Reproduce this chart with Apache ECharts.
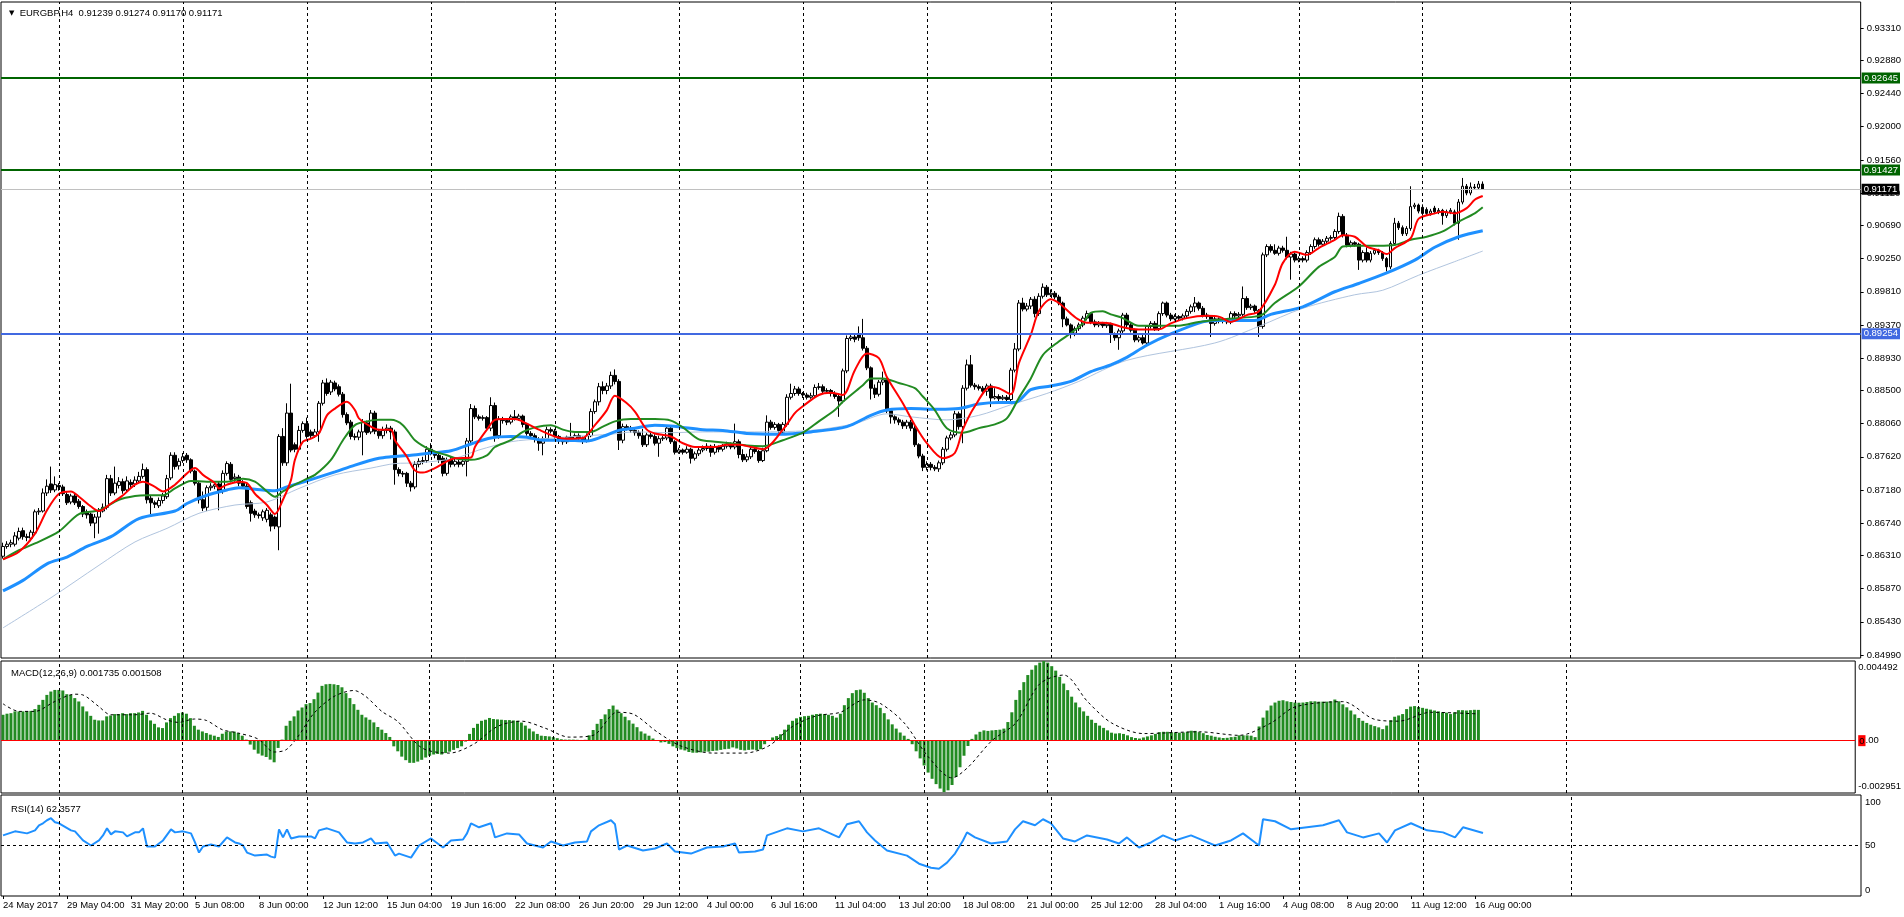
<!DOCTYPE html>
<html><head><meta charset="utf-8">
<script src="https://cdn.jsdelivr.net/npm/echarts@6/dist/echarts.min.js"></script>
<style>html,body{margin:0;padding:0;background:#fff;}#c{width:1904px;height:917px;}</style>
</head><body><div id="c"></div>
<script>
// ---------- DATA ----------
const tickLabels = ["24 May 2017","29 May 04:00","31 May 20:00","5 Jun 08:00","8 Jun 00:00","12 Jun 12:00","15 Jun 04:00","19 Jun 16:00","22 Jun 08:00","26 Jun 20:00","29 Jun 12:00","4 Jul 00:00","6 Jul 16:00","11 Jul 04:00","13 Jul 20:00","18 Jul 08:00","21 Jul 00:00","25 Jul 12:00","28 Jul 04:00","1 Aug 16:00","4 Aug 08:00","8 Aug 20:00","11 Aug 12:00","16 Aug 00:00"];
const priceTicks = [0.93310,0.92880,0.92440,0.92000,0.91560,0.91120,0.90690,0.90250,0.89810,0.89370,0.88930,0.88500,0.88060,0.87620,0.87180,0.86740,0.86310,0.85870,0.85430,0.84990];
const macdTicks = [0.004492, 0, -0.002951];
const rsiTicks = [100, 50, 0];
const weekGridIdx = [14,45,76,107,138,169,200,231,262,293,324,355,392];
const levelGreen = [0.92645, 0.91427];
const levelBlue = [0.89254];
const bidPrice = 0.91171;

const opens = [
0.8630,0.8643,0.8646,0.8646,0.8654,0.8664,0.8656,0.8654,0.8661,0.8689,
0.8690,0.8714,0.8726,0.8718,0.8724,0.8722,0.8712,0.8702,0.8710,0.8703,
0.8696,0.8689,0.8686,0.8674,0.8682,0.8690,0.8695,0.8733,0.8714,0.8724,
0.8729,0.8718,0.8728,0.8726,0.8730,0.8736,0.8745,0.8707,0.8701,0.8697,
0.8704,0.8709,0.8734,0.8764,0.8750,0.8757,0.8764,0.8758,0.8743,0.8727,
0.8705,0.8695,0.8721,0.8723,0.8726,0.8716,0.8740,0.8752,0.8733,0.8735,
0.8727,0.8723,0.8701,0.8690,0.8685,0.8681,0.8679,0.8685,0.8682,0.8669,
0.8789,0.8754,0.8820,0.8778,0.8772,0.8797,0.8806,0.8795,0.8790,0.8795,
0.8833,0.8860,0.8848,0.8860,0.8855,0.8845,0.8818,0.8808,0.8789,0.8788,
0.8795,0.8807,0.8795,0.8820,0.8796,0.8790,0.8797,0.8800,0.8795,0.8745,
0.8740,0.8740,0.8727,0.8722,0.8752,0.8756,0.8757,0.8772,0.8768,0.8764,
0.8760,0.8740,0.8758,0.8752,0.8755,0.8752,0.8756,0.8783,0.8826,0.8815,
0.8813,0.8814,0.8800,0.8830,0.8790,0.8812,0.8810,0.8808,0.8815,0.8813,
0.8816,0.8805,0.8793,0.8790,0.8785,0.8780,0.8786,0.8798,0.8796,0.8789,
0.8783,0.8782,0.8788,0.8785,0.8790,0.8786,0.8784,0.8790,0.8822,0.8835,
0.8855,0.8850,0.8856,0.8870,0.8862,0.8784,0.8802,0.8800,0.8797,0.8794,
0.8790,0.8778,0.8791,0.8789,0.8780,0.8786,0.8787,0.8800,0.8782,0.8768,
0.8771,0.8768,0.8772,0.8760,0.8766,0.8771,0.8773,0.8776,0.8768,0.8775,
0.8772,0.8776,0.8779,0.8775,0.8782,0.8765,0.8758,0.8762,0.8772,0.8769,
0.8757,0.8770,0.8808,0.8801,0.8805,0.8795,0.8805,0.8841,0.8846,0.8852,
0.8846,0.8844,0.8841,0.8843,0.8854,0.8855,0.8849,0.8850,0.8846,0.8842,
0.8836,0.8876,0.8919,0.8921,0.8925,0.8920,0.8906,0.8880,0.8853,0.8845,
0.8861,0.8864,0.8823,0.8815,0.8811,0.8808,0.8803,0.8808,0.8800,0.8778,
0.8763,0.8748,0.8752,0.8748,0.8746,0.8754,0.8772,0.8787,0.8791,0.8819,
0.8802,0.8853,0.8884,0.8857,0.8855,0.8853,0.8849,0.8856,0.8840,0.8842,
0.8839,0.8841,0.8838,0.8877,0.8905,0.8966,0.8958,0.8962,0.8971,0.8952,
0.8975,0.8987,0.8977,0.8979,0.8974,0.8966,0.8945,0.8937,0.8926,0.8932,
0.8937,0.8946,0.8952,0.8941,0.8937,0.8939,0.8936,0.8938,0.8925,0.8920,
0.8929,0.8950,0.8937,0.8930,0.8917,0.8920,0.8913,0.8935,0.8939,0.8932,
0.8952,0.8966,0.8950,0.8945,0.8948,0.8946,0.8949,0.8955,0.8961,0.8966,
0.8959,0.8950,0.8948,0.8939,0.8945,0.8942,0.8944,0.8941,0.8952,0.8949,
0.8951,0.8972,0.8960,0.8962,0.8956,0.8935,0.9030,0.9041,0.9036,0.9032,
0.9039,0.9036,0.9027,0.9031,0.9023,0.9025,0.9023,0.9033,0.9041,0.9050,
0.9044,0.9048,0.9052,0.9053,0.9061,0.9081,0.9056,0.9043,0.9046,0.9044,
0.9023,0.9033,0.9023,0.9032,0.9036,0.9033,0.9025,0.9014,0.9045,0.9072,
0.9066,0.9058,0.9065,0.9094,0.9096,0.9093,0.9090,0.9085,0.9092,0.9087,
0.9089,0.9082,0.9087,0.9087,0.9072,0.9100,0.9121,0.9112,0.9120,0.9119,
0.91239];
const highs = [
0.8648,0.8650,0.8652,0.8662,0.8668,0.8668,0.8660,0.8665,0.8692,0.8694,
0.8720,0.8732,0.8749,0.8736,0.8727,0.8725,0.8715,0.8713,0.8713,0.8706,
0.8698,0.8692,0.8688,0.8686,0.8694,0.8700,0.8738,0.8738,0.8749,0.8735,
0.8733,0.8736,0.8732,0.8736,0.8742,0.8753,0.8748,0.8710,0.8704,0.8708,
0.8714,0.8738,0.8768,0.8768,0.8760,0.8767,0.8767,0.8760,0.8745,0.8730,
0.8716,0.8724,0.8727,0.8729,0.8729,0.8744,0.8756,0.8755,0.8740,0.8738,
0.8731,0.8726,0.8704,0.8693,0.8688,0.8692,0.8694,0.8688,0.8684,0.8792,
0.8800,0.8833,0.8859,0.8781,0.8803,0.8809,0.8814,0.8798,0.8799,0.8836,
0.8864,0.8866,0.8864,0.8863,0.8858,0.8848,0.8821,0.8811,0.8793,0.8798,
0.8812,0.8810,0.8824,0.8823,0.8799,0.8802,0.8805,0.8803,0.8798,0.8748,
0.8743,0.8742,0.8730,0.8756,0.8760,0.8762,0.8776,0.8780,0.8770,0.8767,
0.8763,0.8761,0.8762,0.8760,0.8758,0.8760,0.8787,0.8832,0.8830,0.8818,
0.8817,0.8816,0.8841,0.8834,0.8816,0.8815,0.8813,0.8818,0.8824,0.8819,
0.8818,0.8807,0.8796,0.8793,0.8788,0.8789,0.8802,0.8801,0.8799,0.8791,
0.8786,0.8790,0.8807,0.8793,0.8793,0.8789,0.8793,0.8826,0.8838,0.8860,
0.8862,0.8860,0.8875,0.8878,0.8865,0.8806,0.8805,0.8803,0.8800,0.8797,
0.8799,0.8794,0.8794,0.8792,0.8790,0.8790,0.8803,0.8803,0.8784,0.8774,
0.8773,0.8776,0.8774,0.8769,0.8774,0.8777,0.8780,0.8778,0.8779,0.8777,
0.8779,0.8782,0.8781,0.8806,0.8785,0.8772,0.8766,0.8776,0.8775,0.8771,
0.8774,0.8817,0.8811,0.8808,0.8807,0.8808,0.8845,0.8859,0.8856,0.8855,
0.8848,0.8847,0.8847,0.8858,0.8860,0.8858,0.8853,0.8852,0.8849,0.8845,
0.8879,0.8923,0.8925,0.8924,0.8935,0.8945,0.8909,0.8882,0.8858,0.8864,
0.8875,0.8867,0.8826,0.8817,0.8814,0.8811,0.8811,0.8811,0.8803,0.8780,
0.8766,0.8756,0.8755,0.8751,0.8757,0.8775,0.8790,0.8795,0.8823,0.8822,
0.8857,0.8891,0.8897,0.8860,0.8858,0.8856,0.8859,0.8859,0.8853,0.8845,
0.8844,0.8844,0.8880,0.8913,0.8970,0.8973,0.8966,0.8974,0.8975,0.8979,
0.8992,0.8990,0.8984,0.8982,0.8977,0.8968,0.8948,0.8939,0.8935,0.8940,
0.8949,0.8956,0.8954,0.8944,0.8942,0.8941,0.8941,0.8940,0.8927,0.8932,
0.8953,0.8953,0.8940,0.8932,0.8923,0.8926,0.8936,0.8942,0.8942,0.8955,
0.8968,0.8968,0.8953,0.8951,0.8950,0.8952,0.8958,0.8964,0.8974,0.8968,
0.8962,0.8953,0.8950,0.8948,0.8947,0.8947,0.8946,0.8955,0.8955,0.8954,
0.8988,0.8975,0.8965,0.8964,0.8958,0.9033,0.9044,0.9044,0.9044,0.9042,
0.9042,0.9054,0.9034,0.9033,0.9028,0.9028,0.9036,0.9044,0.9053,0.9053,
0.9051,0.9055,0.9056,0.9064,0.9086,0.9084,0.9059,0.9049,0.9048,0.9046,
0.9036,0.9040,0.9035,0.9039,0.9038,0.9035,0.9027,0.9048,0.9079,0.9075,
0.9069,0.9068,0.9121,0.9099,0.9098,0.9097,0.9093,0.9091,0.9095,0.9092,
0.9091,0.9090,0.9092,0.9090,0.9104,0.9132,0.9124,0.9126,0.9124,0.9128,
0.91274];
const lows = [
0.8627,0.8640,0.8642,0.8643,0.8651,0.8652,0.8650,0.8650,0.8659,0.8685,
0.8688,0.8710,0.8714,0.8715,0.8717,0.8710,0.8698,0.8699,0.8698,0.8693,
0.8682,0.8680,0.8670,0.8654,0.8660,0.8688,0.8692,0.8710,0.8711,0.8720,
0.8713,0.8715,0.8720,0.8722,0.8727,0.8733,0.8700,0.8686,0.8694,0.8694,
0.8700,0.8706,0.8731,0.8745,0.8745,0.8754,0.8754,0.8740,0.8724,0.8700,
0.8690,0.8690,0.8717,0.8719,0.8691,0.8713,0.8737,0.8728,0.8729,0.8723,
0.8720,0.8693,0.8676,0.8681,0.8680,0.8677,0.8675,0.8663,0.8666,0.8638,
0.8750,0.8750,0.8768,0.8768,0.8769,0.8794,0.8786,0.8787,0.8787,0.8782,
0.8830,0.8843,0.8844,0.8849,0.8842,0.8814,0.8804,0.8785,0.8784,0.8784,
0.8764,0.8791,0.8792,0.8792,0.8786,0.8786,0.8793,0.8785,0.8725,0.8736,
0.8735,0.8722,0.8716,0.8719,0.8748,0.8752,0.8754,0.8764,0.8760,0.8754,
0.8736,0.8737,0.8748,0.8749,0.8748,0.8749,0.8736,0.8780,0.8812,0.8810,
0.8810,0.8797,0.8796,0.8782,0.8786,0.8806,0.8804,0.8805,0.8810,0.8810,
0.8801,0.8790,0.8787,0.8781,0.8770,0.8764,0.8783,0.8793,0.8786,0.8779,
0.8778,0.8779,0.8782,0.8782,0.8783,0.8779,0.8781,0.8788,0.8819,0.8830,
0.8845,0.8845,0.8852,0.8858,0.8771,0.8780,0.8797,0.8794,0.8790,0.8786,
0.8775,0.8775,0.8786,0.8777,0.8762,0.8783,0.8784,0.8779,0.8765,0.8766,
0.8765,0.8766,0.8753,0.8757,0.8763,0.8768,0.8770,0.8762,0.8765,0.8768,
0.8769,0.8773,0.8772,0.8772,0.8760,0.8755,0.8755,0.8759,0.8766,0.8754,
0.8755,0.8768,0.8798,0.8798,0.8794,0.8792,0.8802,0.8838,0.8843,0.8843,
0.8840,0.8838,0.8839,0.8840,0.8851,0.8846,0.8846,0.8842,0.8839,0.8815,
0.8833,0.8873,0.8916,0.8914,0.8916,0.8903,0.8877,0.8838,0.8840,0.8842,
0.8857,0.8820,0.8806,0.8806,0.8804,0.8799,0.8799,0.8796,0.8775,0.8760,
0.8743,0.8744,0.8744,0.8743,0.8742,0.8751,0.8769,0.8784,0.8788,0.8798,
0.8780,0.8850,0.8854,0.8851,0.8850,0.8846,0.8843,0.8828,0.8838,0.8836,
0.8837,0.8834,0.8835,0.8874,0.8902,0.8955,0.8955,0.8958,0.8947,0.8949,
0.8972,0.8974,0.8974,0.8971,0.8963,0.8934,0.8935,0.8919,0.8922,0.8929,
0.8934,0.8943,0.8938,0.8934,0.8934,0.8933,0.8933,0.8913,0.8916,0.8904,
0.8926,0.8934,0.8927,0.8914,0.8914,0.8911,0.8911,0.8932,0.8929,0.8929,
0.8949,0.8947,0.8942,0.8943,0.8943,0.8943,0.8946,0.8952,0.8954,0.8956,
0.8947,0.8945,0.8921,0.8936,0.8939,0.8939,0.8938,0.8938,0.8946,0.8946,
0.8948,0.8957,0.8957,0.8953,0.8921,0.8932,0.9027,0.9033,0.9030,0.9029,
0.9033,0.9024,0.8997,0.9020,0.9020,0.9020,0.9020,0.9030,0.9038,0.9041,
0.9041,0.9045,0.9049,0.9049,0.9058,0.9053,0.9040,0.9040,0.9041,0.9010,
0.9020,0.9020,0.9020,0.9030,0.9030,0.9022,0.9008,0.9011,0.9042,0.9063,
0.9055,0.9055,0.9062,0.9091,0.9085,0.9082,0.9082,0.9082,0.9084,0.9084,
0.9070,0.9079,0.9084,0.9069,0.9050,0.9097,0.9109,0.9109,0.9116,0.9116,
0.91170];
const closes = [
0.8643,0.8646,0.8648,0.8657,0.8663,0.8656,0.8655,0.8662,0.8689,0.8690,
0.8714,0.8723,0.8718,0.8725,0.8722,0.8713,0.8701,0.8710,0.8701,0.8696,
0.8686,0.8685,0.8674,0.8682,0.8690,0.8695,0.8733,0.8714,0.8727,0.8729,
0.8717,0.8730,0.8725,0.8731,0.8736,0.8745,0.8705,0.8701,0.8699,0.8704,
0.8710,0.8733,0.8764,0.8749,0.8756,0.8762,0.8758,0.8743,0.8727,0.8705,
0.8694,0.8721,0.8723,0.8725,0.8716,0.8740,0.8753,0.8732,0.8735,0.8727,
0.8723,0.8696,0.8687,0.8685,0.8684,0.8689,0.8691,0.8670,0.8670,0.8789,
0.8754,0.8820,0.8771,0.8772,0.8797,0.8806,0.8789,0.8790,0.8795,0.8833,
0.8860,0.8846,0.8861,0.8852,0.8845,0.8818,0.8807,0.8789,0.8788,0.8795,
0.8808,0.8794,0.8820,0.8796,0.8790,0.8797,0.8800,0.8795,0.8745,0.8740,
0.8739,0.8727,0.8722,0.8752,0.8756,0.8757,0.8772,0.8768,0.8764,0.8758,
0.8740,0.8758,0.8752,0.8756,0.8752,0.8756,0.8783,0.8826,0.8815,0.8813,
0.8814,0.8800,0.8830,0.8790,0.8812,0.8810,0.8808,0.8815,0.8813,0.8816,
0.8805,0.8793,0.8790,0.8785,0.8780,0.8786,0.8798,0.8796,0.8789,0.8783,
0.8782,0.8788,0.8785,0.8790,0.8786,0.8784,0.8790,0.8822,0.8835,0.8855,
0.8850,0.8856,0.8870,0.8862,0.8784,0.8802,0.8800,0.8797,0.8794,0.8790,
0.8778,0.8791,0.8789,0.8780,0.8786,0.8787,0.8800,0.8782,0.8768,0.8771,
0.8768,0.8772,0.8760,0.8766,0.8771,0.8773,0.8776,0.8768,0.8775,0.8772,
0.8776,0.8779,0.8775,0.8782,0.8765,0.8758,0.8762,0.8772,0.8769,0.8757,
0.8770,0.8808,0.8801,0.8805,0.8797,0.8805,0.8841,0.8846,0.8852,0.8846,
0.8844,0.8841,0.8843,0.8854,0.8855,0.8849,0.8850,0.8846,0.8842,0.8836,
0.8876,0.8919,0.8921,0.8918,0.8920,0.8906,0.8880,0.8853,0.8845,0.8861,
0.8864,0.8823,0.8815,0.8811,0.8808,0.8803,0.8808,0.8800,0.8778,0.8763,
0.8748,0.8752,0.8748,0.8746,0.8754,0.8772,0.8787,0.8791,0.8819,0.8802,
0.8853,0.8884,0.8857,0.8855,0.8853,0.8849,0.8856,0.8840,0.8842,0.8839,
0.8841,0.8838,0.8877,0.8905,0.8966,0.8958,0.8962,0.8971,0.8952,0.8975,
0.8987,0.8977,0.8979,0.8974,0.8966,0.8945,0.8937,0.8926,0.8932,0.8937,
0.8946,0.8952,0.8941,0.8937,0.8939,0.8936,0.8938,0.8925,0.8920,0.8929,
0.8950,0.8937,0.8930,0.8917,0.8920,0.8913,0.8935,0.8939,0.8932,0.8952,
0.8966,0.8950,0.8945,0.8948,0.8946,0.8949,0.8955,0.8961,0.8966,0.8959,
0.8950,0.8948,0.8939,0.8945,0.8942,0.8944,0.8941,0.8952,0.8949,0.8951,
0.8972,0.8960,0.8962,0.8956,0.8935,0.9030,0.9041,0.9036,0.9032,0.9039,
0.9036,0.9027,0.9031,0.9023,0.9025,0.9023,0.9033,0.9041,0.9050,0.9044,
0.9048,0.9052,0.9053,0.9061,0.9081,0.9056,0.9043,0.9046,0.9044,0.9023,
0.9033,0.9023,0.9032,0.9036,0.9033,0.9025,0.9014,0.9045,0.9072,0.9066,
0.9058,0.9065,0.9094,0.9096,0.9088,0.9085,0.9085,0.9088,0.9087,0.9089,
0.9082,0.9087,0.9089,0.9072,0.9100,0.9121,0.9112,0.9120,0.9119,0.9124,
0.91171];

// moving averages read at sample bars: [bar index, value]
const maRed = [[0,0.8626],[4,0.8636],[8,0.8660],[11,0.8691],[14,0.8713],[17,0.8716],[19,0.8709],[22,0.8696],[24,0.8690],[27,0.8700],[30,0.8711],[33,0.8725],[35,0.8729],[38,0.8722],[40,0.8716],[43,0.8725],[46,0.8740],[48,0.8747],[50,0.8738],[53,0.8727],[54,0.8720],[56,0.8725],[59,0.8729],[61,0.8727],[63,0.8713],[66,0.8698],[68,0.8686],[70,0.8705],[72,0.8731],[73,0.8758],[75,0.8782],[77,0.8786],[79,0.8793],[81,0.8817],[83,0.8826],[86,0.8835],[88,0.8824],[89,0.8813],[92,0.8802],[94,0.8798],[97,0.8798],[98,0.8784],[101,0.8762],[103,0.8744],[105,0.8741],[108,0.8747],[111,0.8756],[113,0.8760],[117,0.8761],[118,0.8775],[121,0.8798],[123,0.8811],[125,0.8812],[128,0.8812],[131,0.8806],[134,0.8798],[138,0.8789],[141,0.8786],[145,0.8787],[148,0.8804],[151,0.8824],[153,0.8843],[156,0.8833],[158,0.8822],[161,0.8798],[163,0.8793],[167,0.8789],[170,0.8780],[173,0.8775],[178,0.8775],[181,0.8778],[184,0.8778],[187,0.8775],[190,0.8772],[195,0.8798],[198,0.8820],[200,0.8829],[204,0.8844],[207,0.8847],[210,0.8844],[213,0.8877],[216,0.8899],[219,0.8893],[221,0.8868],[225,0.8833],[228,0.8804],[231,0.8780],[235,0.8760],[238,0.8767],[240,0.8798],[243,0.8829],[247,0.8855],[249,0.8853],[252,0.8845],[254,0.8886],[257,0.8924],[259,0.8955],[262,0.8971],[264,0.8966],[267,0.8952],[269,0.8944],[271,0.8940],[275,0.8940],[277,0.8939],[280,0.8934],[284,0.8931],[289,0.8931],[292,0.8939],[296,0.8946],[301,0.8949],[304,0.8948],[307,0.8941],[311,0.8950],[314,0.8955],[318,0.8990],[320,0.9019],[323,0.9034],[326,0.9030],[329,0.9039],[333,0.9050],[335,0.9056],[338,0.9054],[341,0.9041],[344,0.9036],[346,0.9031],[348,0.9039],[352,0.9052],[354,0.9078],[358,0.9085],[360,0.9087],[363,0.9085],[366,0.9092],[368,0.9103],[370,0.9108]];
const maGreen = [[0,0.8626],[4,0.8638],[8,0.8647],[14,0.8663],[19,0.8686],[24,0.8691],[29,0.8705],[33,0.8710],[36,0.8711],[40,0.8711],[43,0.8720],[47,0.8730],[51,0.8729],[56,0.8729],[60,0.8733],[63,0.8729],[66,0.8716],[68,0.8709],[70,0.8716],[73,0.8725],[76,0.8733],[78,0.8738],[82,0.8758],[85,0.8784],[88,0.8804],[91,0.8809],[94,0.8811],[97,0.8811],[100,0.8804],[103,0.8784],[107,0.8771],[111,0.8764],[114,0.8759],[117,0.8758],[121,0.8764],[123,0.8775],[127,0.8784],[130,0.8795],[133,0.8801],[137,0.8804],[140,0.8798],[143,0.8795],[147,0.8795],[150,0.8802],[153,0.8809],[157,0.8812],[160,0.8812],[163,0.8812],[167,0.8810],[170,0.8801],[174,0.8785],[178,0.8782],[182,0.8780],[186,0.8777],[190,0.8776],[195,0.8784],[200,0.8794],[204,0.8809],[208,0.8824],[210,0.8835],[215,0.8857],[217,0.8866],[220,0.8866],[224,0.8860],[228,0.8853],[230,0.8842],[233,0.8824],[236,0.8800],[240,0.8794],[244,0.8800],[248,0.8805],[251,0.8813],[254,0.8840],[257,0.8866],[260,0.8897],[264,0.8915],[267,0.8926],[270,0.8939],[272,0.8953],[275,0.8955],[277,0.8951],[280,0.8946],[284,0.8936],[289,0.8936],[294,0.8936],[299,0.8941],[304,0.8944],[313,0.8948],[315,0.8951],[318,0.8966],[324,0.8988],[329,0.9014],[333,0.9027],[335,0.9041],[339,0.9042],[344,0.9042],[348,0.9043],[352,0.9050],[356,0.9054],[360,0.9061],[364,0.9074],[368,0.9085],[370,0.9093]];
const maBlue = [[0,0.8584],[5,0.8598],[11,0.8620],[16,0.8629],[21,0.8643],[27,0.8656],[34,0.8680],[43,0.8690],[46,0.8700],[51,0.8711],[56,0.8718],[59,0.8721],[63,0.8719],[68,0.8717],[71,0.8722],[76,0.8730],[83,0.8742],[88,0.8751],[94,0.8760],[97,0.8762],[102,0.8764],[107,0.8767],[112,0.8770],[117,0.8779],[122,0.8787],[127,0.8789],[131,0.8788],[135,0.8784],[140,0.8784],[146,0.8783],[150,0.8789],[154,0.8797],[158,0.8800],[163,0.8804],[167,0.8803],[170,0.8801],[175,0.8798],[180,0.8797],[186,0.8793],[194,0.8792],[202,0.8795],[211,0.8802],[217,0.8817],[221,0.8824],[227,0.8826],[234,0.8825],[239,0.8826],[244,0.8832],[249,0.8834],[253,0.8834],[257,0.8851],[262,0.8856],[267,0.8862],[272,0.8875],[277,0.8884],[281,0.8894],[286,0.8910],[292,0.8925],[300,0.8941],[304,0.8943],[313,0.8943],[317,0.8951],[325,0.8961],[333,0.8981],[339,0.8992],[346,0.9006],[353,0.9023],[358,0.9040],[364,0.9054],[370,0.9062]];
const maLight = [[0,0.8535],[12,0.8575],[24,0.8618],[33,0.8649],[41,0.8667],[49,0.8687],[58,0.8698],[66,0.8702],[74,0.8720],[83,0.8738],[92,0.8747],[98,0.8753],[104,0.8754],[113,0.8760],[119,0.8771],[127,0.8782],[135,0.8786],[143,0.8789],[152,0.8792],[158,0.8795],[167,0.8794],[175,0.8795],[186,0.8795],[202,0.8797],[213,0.8806],[221,0.8819],[227,0.8815],[236,0.8811],[244,0.8817],[252,0.8831],[261,0.8846],[269,0.8862],[281,0.8890],[303,0.8913],[314,0.8935],[325,0.8959],[338,0.8977],[345,0.8983],[354,0.9003],[363,0.9021],[370,0.9035]];

const macdHist = [
0.00146,0.00152,0.00155,0.00165,0.00165,0.00165,0.00165,0.00168,0.00178,0.00202,
0.00230,0.00258,0.00277,0.00286,0.00286,0.00283,0.00262,0.00258,0.00240,0.00221,
0.00193,0.00165,0.00140,0.00118,0.00114,0.00114,0.00137,0.00142,0.00150,0.00150,
0.00155,0.00150,0.00155,0.00155,0.00159,0.00168,0.00146,0.00114,0.00095,0.00075,
0.00071,0.00103,0.00127,0.00140,0.00155,0.00159,0.00152,0.00127,0.00084,0.00062,
0.00052,0.00043,0.00034,0.00028,0.00021,0.00039,0.00052,0.00052,0.00051,0.00043,
0.00028,0.00006,-0.00022,-0.00051,-0.00073,-0.00084,-0.00092,-0.00107,-0.00122,-0.00041,
0.00006,0.00084,0.00112,0.00137,0.00170,0.00187,0.00206,0.00212,0.00234,0.00271,
0.00309,0.00318,0.00320,0.00318,0.00314,0.00301,0.00268,0.00240,0.00206,0.00174,
0.00146,0.00131,0.00118,0.00103,0.00077,0.00062,0.00043,0.00021,-0.00032,-0.00060,
-0.00090,-0.00110,-0.00125,-0.00125,-0.00118,-0.00108,-0.00095,-0.00085,-0.00078,-0.00075,
-0.00078,-0.00070,-0.00062,-0.00052,-0.00042,-0.00032,-0.00005,0.00038,0.00072,0.00095,
0.00112,0.00118,0.00128,0.00122,0.00120,0.00118,0.00116,0.00116,0.00114,0.00112,
0.00102,0.00085,0.00068,0.00052,0.00038,0.00028,0.00026,0.00024,0.00020,0.00014,
0.00008,0.00006,0.00006,0.00006,0.00005,0.00004,0.00005,0.00030,0.00060,0.00095,
0.00122,0.00148,0.00178,0.00198,0.00175,0.00155,0.00135,0.00115,0.00096,0.00076,
0.00052,0.00040,0.00028,0.00012,-0.00002,-0.00010,-0.00008,-0.00018,-0.00032,-0.00042,
-0.00050,-0.00055,-0.00064,-0.00068,-0.00068,-0.00066,-0.00062,-0.00062,-0.00058,-0.00056,
-0.00052,-0.00048,-0.00046,-0.00038,-0.00044,-0.00052,-0.00055,-0.00052,-0.00050,-0.00054,
-0.00048,-0.00020,0.00002,0.00018,0.00026,0.00036,0.00062,0.00090,0.00112,0.00126,
0.00134,0.00138,0.00140,0.00146,0.00150,0.00152,0.00150,0.00146,0.00140,0.00130,
0.00152,0.00200,0.00240,0.00268,0.00285,0.00288,0.00270,0.00240,0.00215,0.00200,
0.00185,0.00155,0.00120,0.00092,0.00068,0.00046,0.00028,0.00010,-0.00020,-0.00060,
-0.00100,-0.00140,-0.00180,-0.00215,-0.00245,-0.00270,-0.00290,-0.00280,-0.00250,-0.00205,
-0.00150,-0.00085,-0.00030,0.00010,0.00035,0.00050,0.00058,0.00055,0.00058,0.00060,
0.00062,0.00068,0.00105,0.00160,0.00230,0.00285,0.00330,0.00370,0.00400,0.00425,
0.00440,0.00449,0.00440,0.00420,0.00395,0.00360,0.00322,0.00285,0.00248,0.00215,
0.00188,0.00165,0.00140,0.00118,0.00100,0.00085,0.00072,0.00058,0.00045,0.00040,
0.00042,0.00038,0.00030,0.00020,0.00015,0.00012,0.00018,0.00024,0.00030,0.00038,
0.00048,0.00050,0.00050,0.00048,0.00046,0.00045,0.00046,0.00050,0.00056,0.00055,
0.00048,0.00042,0.00032,0.00028,0.00022,0.00018,0.00015,0.00016,0.00020,0.00022,
0.00030,0.00030,0.00030,0.00028,0.00020,0.00080,0.00130,0.00170,0.00198,0.00215,
0.00225,0.00228,0.00222,0.00218,0.00215,0.00214,0.00215,0.00218,0.00222,0.00222,
0.00220,0.00220,0.00220,0.00222,0.00232,0.00222,0.00205,0.00188,0.00170,0.00148,
0.00128,0.00112,0.00100,0.00090,0.00082,0.00075,0.00065,0.00085,0.00115,0.00135,
0.00142,0.00150,0.00178,0.00192,0.00195,0.00190,0.00185,0.00180,0.00175,0.00170,
0.00165,0.00160,0.00158,0.00150,0.00160,0.00172,0.00172,0.00170,0.00172,0.00174,
0.001735];
const macdSignal = [[0,0.00208],[4,0.00165],[8,0.00165],[13,0.00221],[18,0.00262],[20,0.00258],[24,0.00193],[27,0.00146],[33,0.00146],[37,0.00155],[41,0.00118],[44,0.00103],[48,0.00122],[51,0.00114],[55,0.00062],[59,0.00043],[64,0.00009],[68,-0.00064],[71,-0.00051],[74,0.00024],[78,0.00155],[83,0.00249],[88,0.00283],[91,0.00249],[95,0.00165],[99,0.00108],[105,-0.0004],[112,-0.0007],[118,-0.0002],[124,0.0008],[130,0.0011],[136,0.0007],[142,0.0002],[148,0.0003],[154,0.0016],[158,0.0015],[164,0.0005],[170,-0.0003],[178,-0.0007],[186,-0.0007],[192,-0.0003],[198,0.0008],[204,0.0014],[210,0.0016],[216,0.0023],[220,0.0021],[226,0.0010],[232,-0.0009],[238,-0.0021],[242,-0.0015],[248,0.0000],[254,0.0010],[260,0.0032],[266,0.0037],[272,0.0022],[278,0.0010],[286,0.0004],[300,0.0005],[310,0.0003],[318,0.0010],[324,0.0019],[336,0.0022],[344,0.0012],[350,0.0011],[358,0.0016],[370,0.001508]];
const rsiPts = [[0,60],[3,64],[6,62],[8,65],[9,70],[10,72],[11,75],[12,77],[13,73],[14,72],[17,65],[18,64],[20,55],[22,50],[24,55],[25,60],[26,67],[27,61],[28,64],[30,63],[31,59],[33,63],[34,63],[35,67],[36,49],[38,49],[40,55],[42,66],[43,63],[45,64],[47,62],[48,53],[49,43],[50,49],[52,51],[54,49],[56,58],[58,53],[59,52],[60,50],[61,43],[63,40],[66,41],[67,39],[68,38],[69,66],[70,58],[71,66],[72,57],[74,59],[77,59],[78,57],[79,65],[81,67],[84,63],[86,53],[88,52],[90,53],[92,57],[93,52],[96,53],[98,40],[99,42],[102,38],[104,50],[107,57],[110,48],[112,55],[115,56],[116,62],[117,72],[119,68],[122,72],[123,58],[126,62],[129,61],[131,52],[135,48],[137,54],[140,50],[143,53],[146,54],[147,64],[149,70],[152,75],[153,71],[154,46],[156,50],[160,45],[163,47],[166,52],[168,44],[172,42],[176,48],[180,49],[183,52],[184,43],[188,44],[190,46],[191,60],[196,67],[200,64],[204,67],[209,58],[211,71],[214,74],[216,63],[218,55],[221,45],[226,40],[229,32],[232,28],[234,27],[236,33],[238,42],[240,55],[241,63],[243,58],[247,52],[251,54],[253,66],[255,74],[258,70],[260,76],[262,72],[265,57],[268,54],[271,60],[276,56],[279,52],[281,58],[284,48],[287,53],[290,60],[293,55],[297,60],[300,55],[303,50],[307,55],[310,62],[314,50],[315,76],[318,74],[322,66],[326,68],[330,70],[334,75],[336,63],[340,58],[344,62],[346,53],[348,65],[352,72],[356,65],[360,63],[363,58],[365,68],[370,62.36]];

// ---------- CHART ----------
const FONT = 'Liberation Sans';
const FS = 9.5;
const SLOTS = 465;
const cats = Array.from({length: SLOTS}, (_, i) => i);
const candles = opens.map((o, i) => [o, closes[i], lows[i], highs[i]]);
const vDash = {color: '#000', type: [3, 3], width: 1};
const vLines = () => weekGridIdx.map(i => ({xAxis: i, lineStyle: vDash}));
const isTick = (i) => i % 16 === 0 && i / 16 < tickLabels.length;

function tag(v, bg, lineColor, w) {
  return {
    yAxis: v,
    lineStyle: {color: lineColor, width: w, type: 'solid'},
    label: {show: true, position: 'end', distance: 1, formatter: v.toFixed(5),
      color: '#fff', backgroundColor: bg, padding: [1, 2, 0, 2],
      fontSize: FS, fontFamily: FONT}
  };
}

const chart = echarts.init(document.getElementById('c'));
const gridBase = {show: true, borderColor: '#000', borderWidth: 1, backgroundColor: '#fff'};
chart.setOption({
  animation: false,
  backgroundColor: '#fff',
  title: [
    {text: '{t|▼}  EURGBP,H4  0.91239 0.91274 0.91170 0.91171', left: 4, top: 3,
      textStyle: {fontSize: FS, fontWeight: 'normal', fontFamily: FONT, color: '#000',
        rich: {t: {fontSize: 7, fontFamily: 'DejaVu Sans', color: '#000'}}}},
    {text: 'MACD(12,26,9) 0.001735 0.001508', left: 6, top: 663,
      textStyle: {fontSize: FS, fontWeight: 'normal', fontFamily: FONT, color: '#000'}},
    {text: 'RSI(14) 62.3577', left: 6, top: 799,
      textStyle: {fontSize: FS, fontWeight: 'normal', fontFamily: FONT, color: '#000'}}
  ],
  grid: [
    Object.assign({left: 1, top: 2, width: 1860, height: 656}, gridBase),
    Object.assign({left: 1, top: 661, width: 1860, height: 132}, gridBase),
    Object.assign({left: 1, top: 795, width: 1860, height: 101}, gridBase)
  ],
  xAxis: [0, 1, 2].map(k => ({
    type: 'category', gridIndex: k, data: cats, boundaryGap: true,
    axisLine: {show: false}, splitLine: {show: false},
    axisTick: k === 2 ? {show: true, alignWithLabel: true, interval: (i) => isTick(i), length: 3, lineStyle: {color: '#000'}} : {show: false},
    axisLabel: k === 2 ? {show: true, interval: (i) => isTick(i), formatter: (v) => tickLabels[v / 16] || '',
      align: 'left', margin: 4, fontSize: FS, fontFamily: FONT, color: '#000'} : {show: false}
  })),
  yAxis: [
    {type: 'value', gridIndex: 0, position: 'right', min: 0.84950, max: 0.93655,
      axisLine: {show: false}, splitLine: {show: false},
      axisTick: {show: true, length: 3, customValues: priceTicks, lineStyle: {color: '#000'}},
      axisLabel: {customValues: priceTicks, formatter: (v) => v.toFixed(5), margin: 6,
        fontSize: FS, fontFamily: FONT, color: '#000'}},
    {type: 'value', gridIndex: 1, position: 'right', min: -0.002951, max: 0.004492,
      axisLine: {show: false}, splitLine: {show: false}, axisTick: {show: false},
      axisLabel: {customValues: macdTicks, margin: 3, fontSize: FS, fontFamily: FONT, color: '#000',
        formatter: (v) => v > 0.001 ? '{t|0.004492}' : (v < -0.001 ? '{b|-0.002951}' : '{r|0}.00'),
        rich: {t: {padding: [12, 0, 0, 0], fontSize: FS, fontFamily: FONT, color: '#000'},
               b: {padding: [0, 0, 13, 0], fontSize: FS, fontFamily: FONT, color: '#000'},
               r: {backgroundColor: '#ff0000', padding: [1, 1, 0, 1], fontSize: FS, fontFamily: FONT, color: '#000'}}}},
    {type: 'value', gridIndex: 2, position: 'right', min: 0, max: 100,
      axisLine: {show: false}, splitLine: {show: false}, axisTick: {show: false},
      axisLabel: {customValues: rsiTicks, margin: 4, fontSize: FS, fontFamily: FONT, color: '#000',
        formatter: (v) => v === 100 ? '{t|100}' : (v === 0 ? '{b|0}' : '50'),
        rich: {t: {padding: [14, 0, 0, 0], fontSize: FS, fontFamily: FONT, color: '#000'},
               b: {padding: [0, 0, 12, 0], fontSize: FS, fontFamily: FONT, color: '#000'}}}}
  ],
  series: [
    {type: 'candlestick', xAxisIndex: 0, yAxisIndex: 0, data: candles, barWidth: 3, z: 2,
      itemStyle: {color: '#ffffff', color0: '#000000', borderColor: '#000000', borderColor0: '#000000', borderWidth: 1}},
    {type: 'line', xAxisIndex: 0, yAxisIndex: 0, data: maLight, showSymbol: false, smooth: 0.3, z: 3,
      lineStyle: {color: '#b0c4de', width: 1},
      markLine: {silent: true, symbol: ['none', 'none'], animation: false, precision: 5, label: {show: false},
        data: vLines().concat([
          tag(bidPrice, '#000000', '#c0c0c0', 1),
          ...levelGreen.map(v => tag(v, '#006400', '#006400', 2)),
          ...levelBlue.map(v => tag(v, '#4169e1', '#4169e1', 2))
        ])}},
    {type: 'line', xAxisIndex: 0, yAxisIndex: 0, data: maBlue, showSymbol: false, smooth: 0.3, z: 3,
      lineStyle: {color: '#1e90ff', width: 3}},
    {type: 'line', xAxisIndex: 0, yAxisIndex: 0, data: maGreen, showSymbol: false, smooth: 0.3, z: 3,
      lineStyle: {color: '#228b22', width: 2}},
    {type: 'line', xAxisIndex: 0, yAxisIndex: 0, data: maRed, showSymbol: false, smooth: 0.3, z: 3,
      lineStyle: {color: '#ff0000', width: 2}},
    {type: 'bar', xAxisIndex: 1, yAxisIndex: 1, data: macdHist, barWidth: 3, z: 2,
      itemStyle: {color: '#228b22'},
      markLine: {silent: true, symbol: ['none', 'none'], animation: false, precision: 6, label: {show: false},
        data: vLines().concat([{yAxis: 0, lineStyle: {color: '#ff0000', width: 1, type: 'solid'}}])}},
    {type: 'line', xAxisIndex: 1, yAxisIndex: 1, data: macdSignal, showSymbol: false, smooth: 0.3, z: 3,
      lineStyle: {color: '#000', width: 1, type: [3, 3]}},
    {type: 'line', xAxisIndex: 2, yAxisIndex: 2, data: rsiPts, showSymbol: false, z: 3,
      lineStyle: {color: '#1e90ff', width: 2},
      markLine: {silent: true, symbol: ['none', 'none'], animation: false, label: {show: false},
        data: vLines().concat([{yAxis: 50, lineStyle: {color: '#000', width: 1, type: [3, 3]}}])}}
  ]
});
</script>
</body></html>
